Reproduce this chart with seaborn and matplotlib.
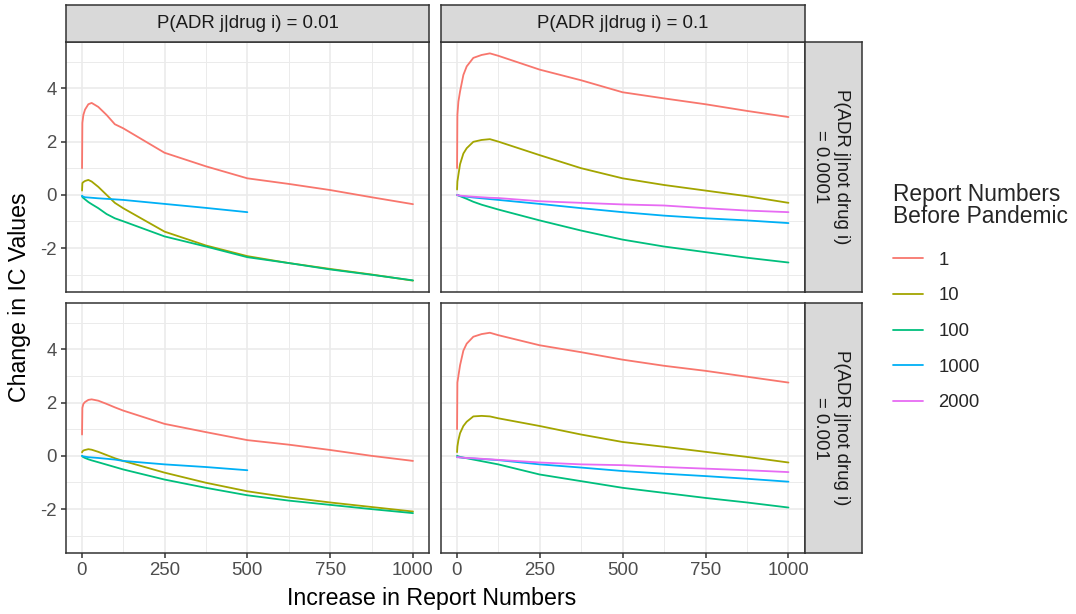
import numpy as np
import pandas as pd
import matplotlib
matplotlib.use("Agg")
import matplotlib.pyplot as plt
import seaborn as sns
from matplotlib.lines import Line2D
from matplotlib.ticker import FixedLocator, FuncFormatter

# ---------------- data ----------------
INCREASE = [1, 2, 5, 10, 20, 30, 50, 75, 100, 125, 250, 375, 500, 625, 750, 875, 1000]
BASE_LEVELS = ["1", "10", "100", "1000", "2000"]
COLORS = ["#F8766D", "#A3A500", "#00BF7D", "#00B0F6", "#E76BF3"]
COL_LABELS = ["P(ADR j|drug i) = 0.01", "P(ADR j|drug i) = 0.1"]
ROW_LABELS = ["P(ADR j|not drug i)\n= 0.0001", "P(ADR j|not drug i)\n= 0.001"]
X_TICKS = [0, 250, 500, 750, 1000]
Y_TICKS = [-2, 0, 2, 4]

# row 0 (P(ADR j|not drug i) = 0.0001), col 0 (P(ADR j|drug i) = 0.01)
R0C0_B1 = [1.0, 2.7, 3.0, 3.2, 3.4, 3.45, 3.3, 3.0, 2.65, 2.5, 1.58, 1.07, 0.62, 0.41, 0.18, -0.09, -0.35]
R0C0_B10 = [0.16, 0.44, 0.48, 0.52, 0.56, 0.5, 0.3, 0.0, -0.3, -0.5, -1.38, -1.9, -2.3, -2.56, -2.78, -2.99, -3.22]
R0C0_B100 = [-0.05, -0.08, -0.12, -0.17, -0.27, -0.35, -0.5, -0.72, -0.88, -0.99, -1.56, -1.94, -2.34, -2.56, -2.8, -3.0, -3.21]
R0C0_B1000 = [-0.03, -0.05, -0.07, -0.09, -0.1, -0.11, -0.13, -0.15, -0.17, -0.19, -0.34, -0.49, -0.65]

# row 0, col 1 (P(ADR j|drug i) = 0.1)
R0C1_B1 = [1.0, 3.0, 3.5, 3.88, 4.5, 4.82, 5.14, 5.25, 5.31, 5.22, 4.7, 4.3, 3.85, 3.62, 3.4, 3.15, 2.92]
R0C1_B10 = [0.2, 0.5, 0.75, 1.15, 1.55, 1.75, 1.99, 2.06, 2.09, 2.0, 1.49, 1.0, 0.62, 0.37, 0.16, -0.05, -0.3]
R0C1_B100 = [0.0, -0.01, -0.02, -0.05, -0.1, -0.15, -0.26, -0.37, -0.46, -0.55, -0.96, -1.34, -1.68, -1.94, -2.15, -2.36, -2.54]
R0C1_B1000 = [0.0, -0.01, -0.02, -0.04, -0.06, -0.07, -0.1, -0.13, -0.16, -0.19, -0.34, -0.5, -0.65, -0.78, -0.88, -0.96, -1.06]
R0C1_B2000 = [0.0, -0.01, -0.02, -0.03, -0.04, -0.05, -0.07, -0.09, -0.11, -0.12, -0.24, -0.3, -0.36, -0.4, -0.5, -0.59, -0.65]

# row 1 (P(ADR j|not drug i) = 0.001), col 0
R1C0_B1 = [0.8, 1.8, 1.95, 2.02, 2.1, 2.12, 2.07, 1.95, 1.82, 1.7, 1.2, 0.89, 0.59, 0.42, 0.22, 0.0, -0.19]
R1C0_B10 = [0.13, 0.16, 0.2, 0.22, 0.25, 0.23, 0.15, 0.03, -0.09, -0.19, -0.63, -1.01, -1.33, -1.56, -1.75, -1.92, -2.09]
R1C0_B100 = [0.0, -0.02, -0.05, -0.08, -0.13, -0.17, -0.24, -0.33, -0.42, -0.51, -0.89, -1.2, -1.48, -1.68, -1.84, -2.0, -2.15]
R1C0_B1000 = [0.0, -0.01, -0.02, -0.03, -0.05, -0.06, -0.08, -0.11, -0.14, -0.19, -0.32, -0.42, -0.54]

# row 1, col 1
R1C1_B1 = [1.0, 2.75, 3.0, 3.4, 3.95, 4.21, 4.47, 4.57, 4.62, 4.53, 4.15, 3.89, 3.61, 3.38, 3.19, 2.97, 2.75]
R1C1_B10 = [0.14, 0.35, 0.59, 0.85, 1.12, 1.28, 1.48, 1.5, 1.48, 1.41, 1.12, 0.8, 0.52, 0.34, 0.15, -0.04, -0.25]
R1C1_B100 = [0.0, -0.01, -0.02, -0.04, -0.07, -0.09, -0.14, -0.2, -0.26, -0.32, -0.7, -0.95, -1.2, -1.39, -1.58, -1.75, -1.94]
R1C1_B1000 = [-0.05, -0.05, -0.05, -0.06, -0.07, -0.08, -0.1, -0.12, -0.14, -0.16, -0.32, -0.44, -0.57, -0.67, -0.76, -0.86, -0.97]
R1C1_B2000 = [-0.05, -0.05, -0.05, -0.06, -0.07, -0.08, -0.09, -0.11, -0.13, -0.15, -0.25, -0.32, -0.35, -0.42, -0.48, -0.54, -0.61]

PANELS = {
    (0, 0): [("1", R0C0_B1), ("10", R0C0_B10), ("100", R0C0_B100), ("1000", R0C0_B1000)],
    (0, 1): [("1", R0C1_B1), ("10", R0C1_B10), ("100", R0C1_B100), ("1000", R0C1_B1000), ("2000", R0C1_B2000)],
    (1, 0): [("1", R1C0_B1), ("10", R1C0_B10), ("100", R1C0_B100), ("1000", R1C0_B1000)],
    (1, 1): [("1", R1C1_B1), ("10", R1C1_B10), ("100", R1C1_B100), ("1000", R1C1_B1000), ("2000", R1C1_B2000)],
}

rows = []
for (r, c), series in PANELS.items():
    for lvl, vals in series:
        for x, y in zip(INCREASE, vals):
            rows.append({"row": r, "col": c, "base": lvl, "inc": x, "ic": y})
df = pd.DataFrame(rows)

# ---------------- style ----------------
sns.set_style("white")
plt.rcParams["font.family"] = ["Liberation Sans", "DejaVu Sans"]
plt.rcParams["axes.unicode_minus"] = False

W, H = 1076, 614
fig = plt.figure(figsize=(W / 100, H / 100), dpi=100)
fig.patch.set_facecolor("white")


def box(x0, y0, x1, y1):
    return [x0 / W, 1 - y1 / H, (x1 - x0) / W, (y1 - y0) / H]


COL_X = [(65.5, 429.5), (440.5, 805)]
ROW_Y = [(42, 292), (303, 553)]
STRIP_TOP = (5, 42)
STRIP_RIGHT = (805, 862)

xr = max(INCREASE) - min(INCREASE)
xlim = (min(INCREASE) - 0.05 * xr, max(INCREASE) + 0.05 * xr)
ymin, ymax = df["ic"].min(), df["ic"].max()
yr = ymax - ymin
ylim = (ymin - 0.05 * yr, ymax + 0.05 * yr)

palette = dict(zip(BASE_LEVELS, COLORS))
BORDER = "#333333"
GRID = "#EBEBEB"
fmt = FuncFormatter(lambda v, p: f"{v:g}")

for r in range(2):
    for c in range(2):
        ax = fig.add_axes(box(COL_X[c][0], ROW_Y[r][0], COL_X[c][1], ROW_Y[r][1]))
        ax.set_facecolor("white")
        sub = df[(df["row"] == r) & (df["col"] == c)]
        ax.set_xlim(xlim)
        ax.set_ylim(ylim)
        ax.xaxis.set_major_locator(FixedLocator(X_TICKS))
        ax.yaxis.set_major_locator(FixedLocator(Y_TICKS))
        ax.xaxis.set_minor_locator(FixedLocator([125, 375, 625, 875]))
        ax.yaxis.set_minor_locator(FixedLocator([-3, -1, 1, 3, 5]))
        ax.grid(True, which="major", color=GRID, linewidth=1.2, zorder=0)
        ax.grid(True, which="minor", color=GRID, linewidth=0.7, zorder=0)
        ax.set_axisbelow(True)
        sns.lineplot(data=sub, x="inc", y="ic", hue="base", hue_order=BASE_LEVELS,
                     palette=palette, ax=ax, legend=False, linewidth=1.3,
                     estimator=None, sort=True)
        ax.set_xlim(xlim)
        ax.set_ylim(ylim)
        ax.set_xlabel("")
        ax.set_ylabel("")
        for s in ax.spines.values():
            s.set_color(BORDER)
            s.set_linewidth(1.1)
        ax.tick_params(which="minor", length=0)
        ax.tick_params(which="major", direction="out", length=3.3, width=1.1,
                       color=BORDER, labelsize=13.4, labelcolor="#4D4D4D", pad=3.0)
        ax.xaxis.set_major_formatter(fmt)
        ax.yaxis.set_major_formatter(fmt)
        ax.tick_params(axis="x", bottom=(r == 1), labelbottom=(r == 1), top=False)
        ax.tick_params(axis="y", left=(c == 0), labelleft=(c == 0), right=False)

        # strips
        if r == 0:
            sa = fig.add_axes(box(COL_X[c][0], STRIP_TOP[0], COL_X[c][1], STRIP_TOP[1]))
            sa.set_facecolor("#D9D9D9")
            sa.set_xticks([]); sa.set_yticks([])
            for s in sa.spines.values():
                s.set_color(BORDER); s.set_linewidth(1.1)
            sa.text(0.5, 0.5, COL_LABELS[c], ha="center", va="center",
                    fontsize=13.4, color="#1A1A1A", transform=sa.transAxes)
        if c == 1:
            sa = fig.add_axes(box(STRIP_RIGHT[0], ROW_Y[r][0], STRIP_RIGHT[1], ROW_Y[r][1]))
            sa.set_facecolor("#D9D9D9")
            sa.set_xticks([]); sa.set_yticks([])
            for s in sa.spines.values():
                s.set_color(BORDER); s.set_linewidth(1.1)
            sa.text(0.45, 0.5, ROW_LABELS[r], ha="center", va="center", rotation=-90,
                    multialignment="center", fontsize=13.4, color="#1A1A1A",
                    transform=sa.transAxes, linespacing=1.3)

fig.text(432 / W, 1 - 598 / H, "Increase in Report Numbers", ha="center", va="center",
         fontsize=16.7, color="black")
fig.text(20 / W, 1 - 297.5 / H, "Change in IC Values", ha="center", va="center",
         rotation=90, fontsize=16.7, color="black")

handles = [Line2D([], [], color=col, linewidth=1.3) for col in COLORS]
leg = fig.legend(handles, BASE_LEVELS, title="Report Numbers\nBefore Pandemic",
                 loc="upper left", bbox_to_anchor=(893 / W, 1 - 183 / H),
                 frameon=False, fontsize=13.3, title_fontsize=16.4,
                 handlelength=1.65, handletextpad=0.8, labelspacing=1.01,
                 borderpad=0, borderaxespad=0, alignment="left")
leg.get_title().set_linespacing(0.95)
try:
    leg._legend_box.sep = 1.01 * 13.3 + 3.6
except Exception:
    pass

fig.savefig("out.png", dpi=100, facecolor="white")
